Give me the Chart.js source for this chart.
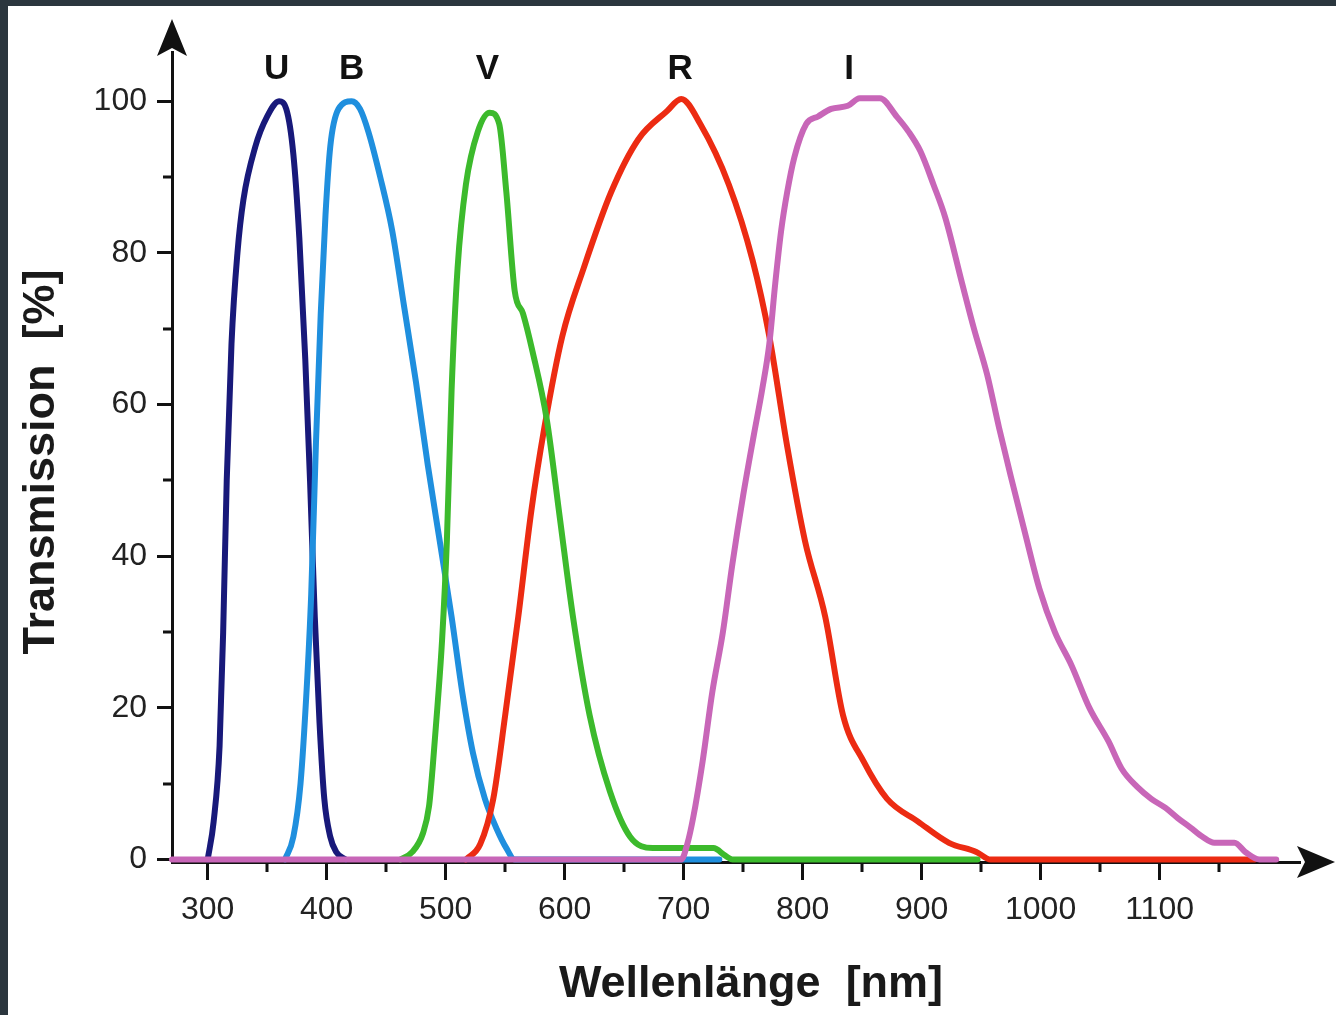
<!DOCTYPE html>
<html lang="de">
<head>
<meta charset="utf-8">
<title>Filterkurven UBVRI</title>
<script src="https://cdn.jsdelivr.net/npm/chart.js@4.4.1/dist/chart.umd.min.js"></script>
<style>
  html, body { margin: 0; padding: 0; background: #fff; }
  #wrap { position: relative; width: 1336px; height: 1015px; overflow: hidden; }
  #wrap canvas { position: absolute; left: 0; top: 0; }
  .frame { position: absolute; background: #2b363e; }
  #frameTop { left: 0; top: 0; width: 1336px; height: 6px; }
  #frameLeft { left: 0; top: 0; width: 8px; height: 1015px; }
</style>
</head>
<body>
<div id="wrap">
  <canvas id="filterChart"></canvas>
  <div class="frame" id="frameTop"></div>
  <div class="frame" id="frameLeft"></div>
</div>
<script>
// ====================== DATA ======================
// filter curves as [wavelength in nm, transmission in %]
const uCurve = [
  [300, 0], [305, 5], [310, 15], [313, 30], [316, 50], [320, 68], [325, 80], [330, 87],
  [340, 94], [350, 98], [360, 100], [366, 99], [372, 93], [377, 82], [382, 66], [386, 50],
  [390, 32], [394, 18], [398, 8], [403, 3], [408, 1], [416, 0]
];
const bCurve = [
  [365, 0], [372, 3], [378, 10], [383, 22], [387, 35], [391, 55], [395, 72], [399, 85],
  [403, 94], [410, 99], [421, 100], [428, 99], [435, 96], [445, 90], [455, 83], [465, 73],
  [475, 63], [485, 52], [495, 42], [505, 32], [514, 22], [523, 14], [533, 8], [543, 4],
  [551, 1.5], [558, 0], [730, 0]
];
const vCurve = [
  [462, 0], [472, 1], [481, 3.5], [486, 7], [489, 12], [493, 20], [497, 29], [501, 42],
  [505, 62], [510, 78], [517, 89], [527, 96], [537, 98.5], [545, 97], [551, 88], [558, 75],
  [565, 72], [573, 67], [585, 58], [596, 45], [607, 32], [621, 19], [638, 9], [655, 3],
  [674, 1.5], [700, 1.5], [725, 1.5], [735, 0.5], [741, 0], [947, 0]
];
const rCurve = [
  [517, 0], [529, 2], [540, 8], [550, 19], [561, 32], [572, 46], [583, 57], [598, 69],
  [616, 78], [639, 88], [662, 95], [686, 98.7], [698, 100.3], [714, 97], [738, 89], [758, 79],
  [772, 69], [787, 54.5], [802, 42], [819, 32], [834, 19], [851, 13], [871, 8], [897, 5],
  [923, 2.2], [946, 1], [958, 0], [1180, 0]
];
const iCurve = [
  [270, 0], [698, 0], [703, 2], [708, 5.5], [716, 13], [724, 22], [733, 30], [741, 39],
  [750, 48], [759, 56], [766, 62], [772, 68], [777, 76], [782, 83], [787, 88], [793, 92.6],
  [803, 97], [813, 98], [824, 99], [838, 99.4], [848, 100.4], [865, 100.4], [879, 98],
  [889, 96], [899, 93.4], [910, 89], [920, 84.6], [934, 76], [944, 70], [955, 64], [965, 57],
  [975, 50.5], [987, 43], [999, 35.7], [1012, 30], [1026, 25.6], [1041, 20], [1057, 15.6],
  [1068, 12], [1081, 9.6], [1093, 8], [1105, 6.8], [1115, 5.5], [1126, 4.2], [1136, 3],
  [1146, 2.2], [1163, 2.2], [1172, 1], [1184, 0], [1198, 0]
];

const xTickLabels = [300, 400, 500, 600, 700, 800, 900, 1000, 1100];
const xMinorTicks = [350, 450, 550, 650, 750, 850, 950, 1050, 1150];
const yTickLabels = [0, 20, 40, 60, 80, 100];
const yMinorTicks = [10, 30, 50, 70, 90];

// filter letters above the peaks
const filterNames = ["U", "B", "V", "R", "I"];
const filterLabelWavelengths = [358, 421, 535, 697, 839];
const filterLabelLevel = 104.2;

const xTitle = "Wellenlänge  [nm]";
const yTitle = "Transmission  [%]";

// ====================== HELPERS ======================
const FONT = "'Liberation Sans', Arial, Helvetica, sans-serif";
const INK = "#111";

function makeSet(label, curve, color) {
    return {
        label,
        data: curve.map(p => ({ x: p[0], y: p[1] })),
        borderColor: color,
        borderWidth: 6,
        pointRadius: 0,
        fill: false,
        cubicInterpolationMode: "monotone",
        borderJoinStyle: "round",
        borderCapStyle: "round",
        clip: false
    };
}

// minor ticks, axis arrows, filter letters and axis titles
const decorPlugin = {
    id: "decor",
    beforeDatasetsDraw(chart) {
        const { ctx, scales: { x, y }, chartArea } = chart;
        ctx.save();
        ctx.strokeStyle = INK;
        ctx.lineWidth = 3;
        ctx.beginPath();
        xMinorTicks.forEach(v => {
            const px = Math.round(x.getPixelForValue(v));
            ctx.moveTo(px, chartArea.bottom);
            ctx.lineTo(px, chartArea.bottom + 10);
        });
        yMinorTicks.forEach(v => {
            const py = Math.round(y.getPixelForValue(v));
            ctx.moveTo(chartArea.left, py);
            ctx.lineTo(chartArea.left - 9, py);
        });
        ctx.stroke();
        ctx.restore();
    },
    afterDraw(chart) {
        const { ctx, scales: { x, y }, chartArea } = chart;
        ctx.save();
        ctx.fillStyle = INK;

        // arrow on top of the y axis
        const ax = chartArea.left;
        const top = chartArea.top;
        ctx.beginPath();
        ctx.moveTo(ax, top - 33);
        ctx.lineTo(ax + 15, top + 4);
        ctx.lineTo(ax, top - 4);
        ctx.lineTo(ax - 15, top + 4);
        ctx.closePath();
        ctx.fill();

        // arrow at the end of the x axis
        const ay = chartArea.bottom;
        const right = chartArea.right;
        ctx.beginPath();
        ctx.moveTo(right + 35, ay);
        ctx.lineTo(right - 3, ay - 16);
        ctx.lineTo(right + 5, ay);
        ctx.lineTo(right - 3, ay + 16);
        ctx.closePath();
        ctx.fill();

        // filter names
        ctx.font = "bold 35px " + FONT;
        ctx.textAlign = "center";
        ctx.textBaseline = "middle";
        filterNames.forEach((name, i) => {
            ctx.fillText(name, x.getPixelForValue(filterLabelWavelengths[i]), y.getPixelForValue(filterLabelLevel));
        });

        // axis titles
        ctx.font = "bold 45px " + FONT;
        ctx.fillStyle = "#1a1a1a";
        ctx.fillText(xTitle, chartArea.left + 579, chartArea.bottom + 123);
        ctx.translate(42, (chartArea.top + chartArea.bottom) / 2 + 5);
        ctx.rotate(-Math.PI / 2);
        ctx.fillText(yTitle, 0, 0);
        ctx.restore();
    }
};

// ====================== CHART ======================
const tickFont = { family: FONT, size: 32 };

new Chart(document.getElementById("filterChart"), {
    type: "line",
    data: {
        // first dataset ends up on top
        datasets: [
            makeSet("I", iCurve, "#c866b8"),
            makeSet("V", vCurve, "#3cba2c"),
            makeSet("R", rCurve, "#ec2b12"),
            makeSet("B", bCurve, "#1f8fde"),
            makeSet("U", uCurve, "#18197a")
        ]
    },
    options: {
        responsive: true,
        maintainAspectRatio: false,
        animation: false,
        layout: { padding: { left: 0, top: 52, right: 36, bottom: 0 } },
        plugins: {
            legend: { display: false },
            tooltip: { enabled: false }
        },
        scales: {
            x: {
                type: "linear",
                min: 270,
                max: 1218,
                afterBuildTicks: s => { s.ticks = xTickLabels.map(v => ({ value: v })); },
                afterFit: s => { s.height = 153; },
                grid: { display: true, drawOnChartArea: false, drawTicks: true, tickLength: 18, tickWidth: 3, tickColor: INK },
                border: { display: true, color: INK, width: 3 },
                ticks: {
                    color: "#222", font: tickFont, padding: 11, maxRotation: 0, autoSkip: false,
                    callback: v => String(v)
                }
            },
            y: {
                type: "linear",
                min: -0.33,
                max: 106.5,
                afterBuildTicks: s => { s.ticks = yTickLabels.map(v => ({ value: v })); },
                afterFit: s => { s.width = 172; },
                grid: { display: true, drawOnChartArea: false, drawTicks: true, tickLength: 15, tickWidth: 3, tickColor: INK },
                border: { display: true, color: INK, width: 3 },
                ticks: { color: "#222", font: tickFont, padding: 10, autoSkip: false, callback: v => String(v) }
            }
        }
    },
    plugins: [decorPlugin]
});
</script>
</body>
</html>
